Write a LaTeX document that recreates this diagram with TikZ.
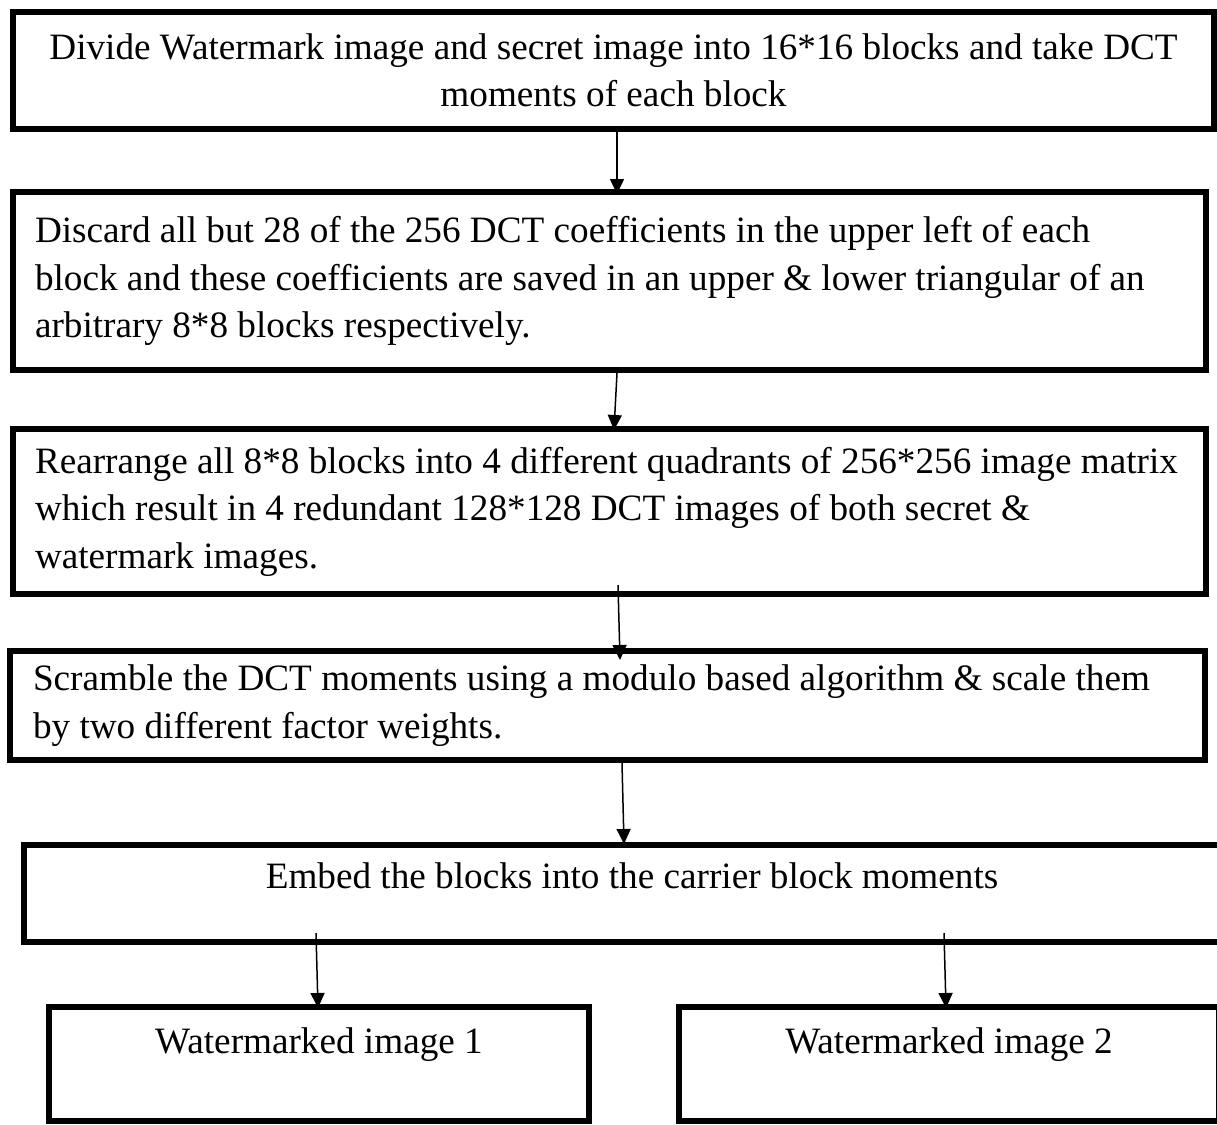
\documentclass[tikz,border=0pt]{standalone}
\usepackage{fontspec}
\setmainfont{Liberation Serif}
\usetikzlibrary{arrows.meta}
\tikzset{
  stage/.style={draw, line width=6pt, inner sep=0pt, font=\fontsize{37.2}{47.5}\selectfont},
  flow/.style={line width=1.5pt, -{Triangle[width=14pt,length=15pt]}}
}

\begin{document}
\begin{tikzpicture}[x=1pt, y=-1pt]
  \useasboundingbox (0,0) rectangle (1217,1124);
  \clip (0,0) rectangle (1217,1124);
  \def\tw{1149pt}

  \node[stage, minimum width=1201pt, minimum height=117pt, text width=1195pt, align=flush center] (dct) at (613.5,70.5)
    {Divide Watermark image and secret image into 16*16 blocks and take DCT\\ moments of each block};
  \node[stage, minimum width=1193pt, minimum height=178pt, text width=\tw, align=flush left] (keep) at (609.5,281)
    {Discard all but 28 of the 256 DCT coefficients in the upper left of each\\ block and these coefficients are saved in an upper \& lower triangular of an\\ arbitrary 8*8 blocks respectively.};
  \node[stage, minimum width=1193pt, minimum height=165pt, text width=\tw, align=flush left] (quad) at (609.5,511.5)
    {Rearrange all 8*8 blocks into 4 different quadrants of 256*256 image matrix\\ which result in 4 redundant 128*128 DCT images of both secret \&\\ watermark images.};
  \node[stage, minimum width=1195pt, minimum height=109pt, text width=\tw, align=flush left] (scram) at (607.5,705.5)
    {Scramble the DCT moments using a modulo based algorithm \& scale them\\ by two different factor weights.};
  \node[stage, minimum width=1216pt, minimum height=97pt, text depth=35pt] (embed) at (632,893.5)
    {Embed the blocks into the carrier block moments};
  \node[stage, minimum width=540pt, minimum height=114pt, text depth=47pt] (wm1) at (319,1064)
    {Watermarked image 1};
  \node[stage, minimum width=540pt, minimum height=114pt, text depth=47pt] (wm2) at (949,1064)
    {Watermarked image 2};

  \draw[flow] ([xshift=3.5pt]dct.south) -- ([xshift=7.5pt,yshift=-5pt]keep.north);
  \draw[flow] ([xshift=7.5pt]keep.south) -- ([xshift=4.5pt,yshift=-4pt]quad.north);
  \draw[flow] ([xshift=8.5pt,yshift=12pt]quad.south) -- ([xshift=12.5pt,yshift=-12pt]scram.north);
  \draw[flow] ([xshift=14.5pt]scram.south) -- ([xshift=-8pt,yshift=-2pt]embed.north);
  \draw[flow] ([xshift=-316pt,yshift=12pt]embed.south) -- ([xshift=-1pt,yshift=-4pt]wm1.north);
  \draw[flow] ([xshift=312pt,yshift=12pt]embed.south) -- ([xshift=-3pt,yshift=-4pt]wm2.north);
\end{tikzpicture}
\end{document}
